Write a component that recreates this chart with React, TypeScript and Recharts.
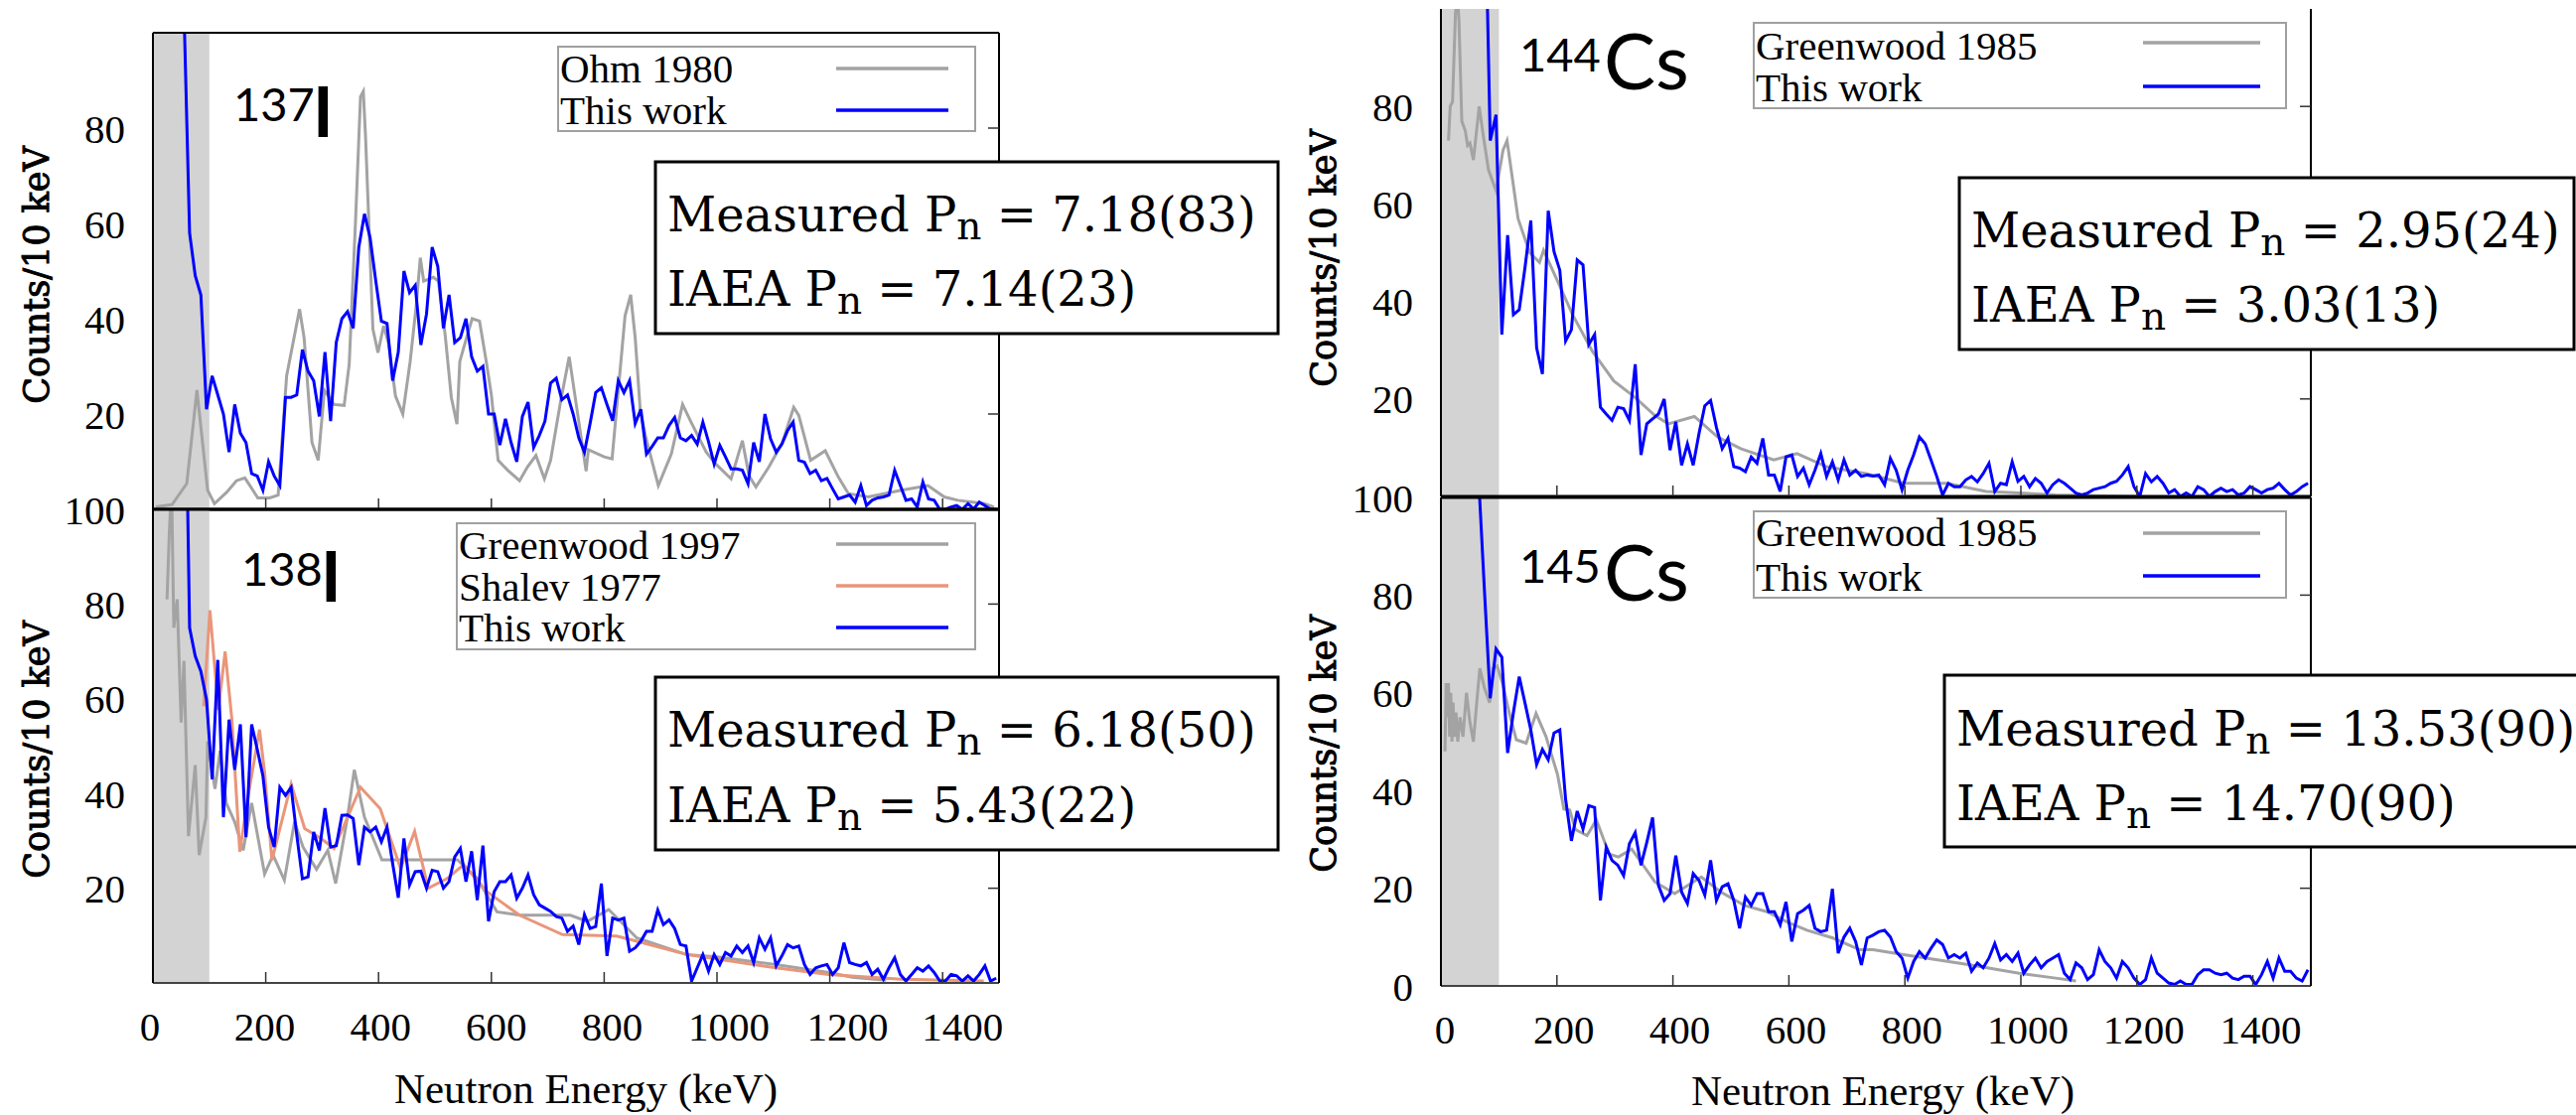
import React from "react";
import { LineChart, Line, XAxis, YAxis, ReferenceArea } from "recharts";

// "This work" spectra, 10 keV bins, bin centres 45 ... 1495 keV
const binCentres = Array.from({ length: 146 }, (_, i) => 45 + 10 * i);

const thisWork137 = [
  160, 105, 58, 49, 45, 21,
  28, 24, 20, 12, 22, 16, 14, 7.5, 7, 4,
  10, 7, 5, 23.5, 23.5, 24, 33.5, 29, 27, 19.5,
  33, 18.5, 35, 40, 41.5, 38, 55, 62, 57, 48,
  39.5, 39, 27, 33, 50, 45.5, 47, 34.5, 41, 55,
  51, 38, 45, 35, 36, 40, 32, 29, 30, 20,
  20, 13.5, 19, 14, 10, 19.5, 22.5, 13, 15.5, 18.5,
  26.5, 27.5, 23, 24, 20, 15, 12, 18, 24.5, 25.5,
  22, 18.6, 27, 24.5, 27, 18, 21, 11.6, 13.2, 15,
  15, 17.6, 19.3, 15, 14.4, 15.5, 13.7, 18.3, 14.2, 9.5,
  13.4, 11, 8.5, 8.5, 8.2, 5.4, 14, 10, 20, 14.8,
  12, 13.7, 16.5, 18.3, 10.3, 9.9, 7.5, 8.2, 6, 6.5,
  4.3, 2.2, 2.6, 3, 1.5, 5, 0.8, 1.9, 2.4, 2.6,
  3, 8.2, 5, 1.9, 2.2, 0.5, 5.7, 2.2, 1.9, 0,
  0, 0.5, 0.8, 0, 1.2, 0.1, 1.5, 0.8, 0, 0,
];

const thisWork138 = [
  160, 150, 75, 69, 65.8, 59.8,
  43, 68.2, 35, 55.6, 45, 54.6, 30.8, 54.6, 49.3, 43.7,
  32.9, 28.7, 41.3, 39.6, 41.3, 31.2, 22, 22.4, 31.9, 28,
  36.9, 28.7, 29, 35.4, 35.5, 34.7, 24.9, 32.9, 31.9, 32.9,
  29.8, 32.9, 25.2, 18, 30.5, 20.7, 23.5, 23.6, 20, 23.8,
  23.5, 20, 21.4, 26.6, 28.4, 21.4, 27.8, 17.5, 29, 13,
  19.3, 21.4, 21.4, 22.8, 17.9, 20, 22.8, 18.6, 16.5, 15.8,
  15.1, 14, 13.7, 10.9, 12, 8.1, 14.4, 11.5, 11.9, 21,
  5.7, 13.7, 13.3, 13.7, 6.7, 7.4, 8.8, 10.9, 10.9, 15.4,
  12.3, 13.3, 11.5, 8.1, 7.8, 0.4, 3.2, 6, 2.5, 6,
  3.9, 6.4, 5.7, 7.8, 6.4, 7.8, 4.3, 9.5, 7.1, 9.5,
  3.6, 5.7, 8.1, 7.4, 7.8, 3.9, 1.8, 3.2, 3.6, 3.9,
  1.8, 3.2, 8.5, 4.3, 3.9, 3.6, 4.3, 1.8, 2.9, 0.8,
  3.2, 5.3, 1.8, 0.4, 1.8, 3.2, 2.5, 3.6, 2.2, 0.4,
  0.4, 1.8, 1.5, 0.4, 1.5, 0.4, 1.8, 3.6, 0.4, 1,
];

const thisWork144 = [
  160, 150, 140, 130, 73, 78.3,
  33.2, 53.6, 37.3, 38.3, 47, 56.6, 30.5, 25.1, 58.6, 50.2,
  46.4, 31.9, 34.2, 48.5, 47.5, 31.2, 33.2, 18.3, 16.9, 15.6,
  18.3, 18, 15.6, 27.1, 8.5, 14.9, 15.9, 16.9, 20, 9.5,
  15.3, 6.4, 10.8, 6.4, 12.9, 18.6, 19.7, 14.2, 9.8, 11.9,
  6.1, 5.8, 5.1, 8.1, 6.8, 11.9, 4.4, 4.4, 1, 8.1,
  8.5, 4.1, 5.8, 2.4, 5.4, 8.8, 4.1, 7.1, 3.4, 7.5,
  4.4, 5.4, 4.1, 4.4, 4.2, 4.4, 2.4, 7.8, 5.4, 1.4,
  5.4, 8.5, 12.2, 10.8, 7.5, 4.1, 0.3, 2.7, 2, 2,
  3.4, 4.1, 3, 4.7, 6.8, 1, 2.7, 2.4, 7.1, 3.1,
  4.1, 2, 3.7, 2.7, 0.7, 2.4, 3.4, 2.7, 1.7, 0.7,
  0.3, 0.7, 1.4, 1.7, 2, 2.7, 3.1, 4.4, 6.1, 2,
  0, 4.7, 3, 4.1, 2.7, 0.7, 1.4, 0, 0.7, 0,
  2, 1.4, 0, 1, 1.7, 1, 1.4, 0.3, 0.7, 2,
  1.4, 0.7, 1.4, 1.7, 2.7, 1.4, 0.3, 1, 2, 2.7,
];

const thisWork145 = [
  170, 160, 104, 81, 58.9, 69,
  67.3, 47.7, 56, 63.3, 57.9, 52.4, 45.3, 48.4, 46.3, 51.8,
  52.4, 38.2, 29.7, 35.8, 32.1, 36.9, 36.5, 17.5, 28.4, 25.7,
  24.7, 22.6, 29.1, 31.4, 24.7, 29.4, 34.5, 20.6, 17.5, 18.9,
  26.7, 19.2, 16.9, 23, 21.6, 18.6, 25.7, 17.5, 20.3, 20.9,
  17.5, 11.8, 18.2, 16.5, 18.9, 18.9, 15.2, 15.2, 12.5, 17.2,
  9.1, 14.8, 15.5, 16.5, 11.8, 11.1, 11.4, 19.9, 6.7, 10,
  11.8, 9.1, 4.3, 9.8, 10.4, 11.1, 11.4, 10, 7, 5.7,
  1.6, 5, 7, 5.7, 7.7, 9.4, 8.5, 5.7, 6.4, 5.7,
  6.7, 3, 4.7, 3.7, 5.7, 8.7, 5.3, 6.4, 5, 6.7,
  2.6, 4.3, 5.7, 3.7, 5, 5.7, 6.4, 2.6, 1.3, 4.7,
  3.7, 1.3, 2.3, 7.4, 5, 3.7, 1.6, 5, 3.7, 1.6,
  0.3, 1.3, 5.7, 2.6, 1.6, 0.6, 0.3, 1, 0.3, 0.3,
  2.3, 3.3, 3.3, 2.6, 2.3, 2.6, 1.6, 1.3, 2, 2,
  0.3, 2.3, 5, 1.6, 5.7, 3, 3, 1.6, 1, 3.3,
];

// earlier measurements, [energy keV, counts/10 keV]
const ohm1980 = [
  [5, 0.5], [34, 1], [60, 5.4], [78, 25], [97, 4], [109, 1.2], [131, 3.6], [148, 6], [163, 6.6], [186, 2.4],
  [207, 2.4], [222, 3], [237, 28], [260, 42], [268, 36], [282, 14], [293, 10.3], [304, 25], [321, 22], [339, 21.8],
  [348, 30.5], [359, 60], [368, 86.6], [373, 87.7], [377, 78], [390, 37.8], [399, 32.9], [409, 38.5], [418, 34.7], [430, 23.8],
  [443, 20], [456, 31], [467, 43], [474, 52.8], [480, 47.9], [497, 48.7], [506, 47.9], [518, 36.7], [529, 23.5], [539, 17.9],
  [544, 31], [556, 36], [566, 40], [579, 39.5], [591, 31], [600, 24], [612, 10.3], [629, 8.2], [650, 6], [664, 8.9],
  [679, 11.3], [694, 6.4], [705, 10.3], [723, 22.8], [738, 32], [768, 8], [772, 12.5], [800, 11], [814, 10.6], [837, 40.6],
  [847, 45], [855, 36], [864, 20.7], [874, 15], [896, 5], [919, 11.6], [939, 22], [954, 18.3], [981, 12], [998, 9.5],
  [1025, 6.4], [1045, 14.4], [1057, 7], [1069, 4.7], [1092, 8.9], [1116, 14], [1136, 21.4], [1145, 19.7], [1166, 10.3], [1192, 12.3],
  [1215, 6.8], [1233, 3.3], [1268, 2.6], [1327, 4], [1374, 5], [1403, 2.6], [1427, 1.9], [1474, 1.2], [1491, 0.5],
];

const greenwood1997 = [
  [25, 81], [29, 95], [33, 105], [37, 75], [43, 81], [50, 55], [55, 68], [63, 31], [75, 46], [82, 27],
  [94, 35], [97, 51], [110, 41], [119, 49], [130, 38], [145, 34], [160, 28], [175, 38], [198, 23], [213, 27],
  [233, 21.7], [251, 34], [266, 28.7], [290, 24], [310, 28], [324, 21], [345, 35], [357, 45], [375, 35], [406, 26],
  [540, 26], [575, 22], [610, 15], [651, 14.3], [740, 14.3], [770, 13], [808, 15.5], [858, 9.5], [946, 6], [1000, 5.5],
  [1104, 3.9], [1198, 2.2], [1240, 1.2], [1300, 0.6],
];

const shalev1977 = [
  [90, 58.4], [101, 78.7], [116, 57.7], [128, 70], [140, 55.6], [154, 27.7], [169, 39.6], [189, 53.5], [198, 44.4], [211, 25.9],
  [245, 42], [269, 32.6], [298, 30.5], [321, 28.4], [368, 41.3], [403, 36.8], [439, 24.2], [464, 32], [488, 20], [521, 22],
  [551, 25], [592, 19.3], [650, 14.3], [726, 10.2], [822, 9.9], [858, 8.8], [946, 6], [1104, 3.2], [1198, 1.8], [1327, 0.8],
  [1473, 0.4],
];

const greenwood1985cs144 = [
  [13, 73], [16, 80], [20, 81], [25, 99], [28, 103], [31, 98], [36, 77], [42, 75], [46, 72], [50, 72.5],
  [56, 69], [66, 80], [73, 74], [82, 67], [95, 62.7], [107, 71], [114, 73], [133, 57], [153, 50], [170, 48],
  [177, 50.5], [204, 43.4], [227, 37.3], [261, 29.8], [298, 23.7], [335, 20.3], [369, 16.6], [392, 14.9], [437, 16.4], [477, 12.2],
  [517, 9.8], [574, 7.5], [614, 8.8], [665, 6.1], [733, 4.7], [798, 2.7], [872, 2.7], [940, 1], [997, 0.7], [1060, 0.3],
  [1200, 0],
];

const greenwood1985cs145 = [
  [7, 48], [9, 62], [11, 55], [13, 62], [15, 51], [17, 60], [19, 50], [21, 58], [23, 51], [26, 56],
  [29, 50], [33, 55], [38, 51], [44, 60], [50, 54], [56, 50], [61, 57], [67, 65], [75, 61], [84, 58],
  [90, 65], [97, 65.5], [107, 61.6], [118, 55.8], [130, 50.4], [147, 49.7], [164, 55.8], [181, 51.1], [201, 43.3], [212, 36.2],
  [222, 36], [232, 32], [252, 30.8], [268, 34], [290, 27], [306, 26.4], [329, 28], [369, 21.3], [403, 18.9], [449, 22.3],
  [483, 19.2], [523, 16.5], [562, 15.2], [597, 13.1], [631, 11.4], [676, 9.8], [722, 7.4], [745, 7.4], [798, 6.4], [912, 4.3],
  [997, 2.6], [1060, 1.6], [1095, 1],
];

const energyTicks = [0, 200, 400, 600, 800, 1000, 1200, 1400];
const countTicks = [20, 40, 60, 80];
const countTicksTop = [20, 40, 60, 80, 100];
const countTicksAll = [0, 20, 40, 60, 80, 100];

const serif = "'Liberation Serif', 'Times New Roman', serif";
const boxFont = "'DejaVu Serif', serif";
const sans = "Lato, 'Noto Sans', sans-serif";

const GREY = "#a3a3a3";
const BLUE = "#0000ff";
const SALMON = "#e9967a";

const toBins = (vals: number[]) => vals.map((v, i) => ({ e: binCentres[i], v }));
const toPts = (pairs: number[][]) => pairs.map(([e, v]) => ({ e, v }));

const noLabel = () => <g />;

interface Series {
  data: { e: number; v: number }[];
  color: string;
  width: number;
}

interface PanelProps {
  left: number;
  top: number;
  width: number;
  height: number;
  margin: { top: number; right: number; bottom: number; left: number };
  yTicks: number[];
  labels: boolean;
  nudge: number[];
  topAxisLine: boolean;
  topH: number;
  dividerBottom: boolean;
  dividerTop: boolean;
  series: Series[];
}

function Panel(p: PanelProps) {
  const renderTick = (props: any) => {
    const { x, y, payload } = props;
    const dx = p.nudge[Math.round(payload.value / 200)] ?? 0;
    return (
      <text x={x + dx} y={y} dy="0.71em" textAnchor="middle" fontSize={41} fontFamily={serif} fill="#000">
        {payload.value}
      </text>
    );
  };
  return (
    <div style={{ position: "absolute", left: p.left, top: p.top }}>
      <LineChart width={p.width} height={p.height} margin={p.margin}>
        <XAxis
          xAxisId="b"
          type="number"
          dataKey="e"
          domain={[0, 1500]}
          allowDataOverflow
          ticks={energyTicks}
          interval={0}
          height={p.labels ? 60 : 10}
          axisLine={{ stroke: p.dividerBottom ? "#000" : "#444", strokeWidth: p.dividerBottom ? 3 : 2 }}
          tickLine={{ stroke: "#333", strokeWidth: 1.5 }}
          tickSize={-11}
          tickMargin={40}
          tick={p.labels ? renderTick : noLabel}
        />
        <XAxis
          xAxisId="t"
          orientation="top"
          type="number"
          domain={[0, 1500]}
          allowDataOverflow
          ticks={energyTicks}
          interval={0}
          height={p.topH}
          axisLine={p.topAxisLine ? { stroke: "#000", strokeWidth: p.dividerTop ? 3 : 2 } : false}
          tickLine={{ stroke: "#333", strokeWidth: 1.5 }}
          tickSize={-11}
          tick={noLabel}
        />
        <YAxis
          yAxisId="l"
          type="number"
          domain={[0, 100]}
          allowDataOverflow
          ticks={p.yTicks}
          interval={0}
          width={60}
          tickSize={0}
          tickMargin={28}
          tickLine={false}
          axisLine={{ stroke: "#000", strokeWidth: 2 }}
          tick={{ fontSize: 41, fill: "#000", fontFamily: serif }}
        />
        <YAxis
          yAxisId="r"
          orientation="right"
          type="number"
          domain={[0, 100]}
          allowDataOverflow
          ticks={countTicks}
          interval={0}
          width={10}
          tickSize={-11}
          tick={noLabel}
          axisLine={{ stroke: "#000", strokeWidth: 2 }}
          tickLine={{ stroke: "#333", strokeWidth: 1.5 }}
        />
        <ReferenceArea xAxisId="b" yAxisId="l" x1={0} x2={100} fill="#d3d3d3" fillOpacity={1} stroke="none" />
        {p.series.map((s, i) => (
          <Line
            key={i}
            xAxisId="b"
            yAxisId="l"
            data={s.data}
            dataKey="v"
            type="linear"
            stroke={s.color}
            strokeWidth={s.width}
            dot={false}
            activeDot={false}
            isAnimationActive={false}
          />
        ))}
      </LineChart>
    </div>
  );
}

function PnBox({ x, y, w, h, tx, b1, b2, measured, iaea }: any) {
  const row = (label: string, val: string, base: number) => (
    <text x={tx} y={base} fontFamily={boxFont} fontSize={48} fill="#000" style={{ whiteSpace: "pre" }}>
      <tspan>{label + " P"}</tspan>
      <tspan fontSize={39} dy={8}>n</tspan>
      <tspan dy={-8}>{" = " + val}</tspan>
    </text>
  );
  return (
    <g>
      <rect x={x} y={y} width={w} height={h} fill="#fff" stroke="#000" strokeWidth={3} />
      {row("Measured", measured, b1)}
      {row("IAEA", iaea, b2)}
    </g>
  );
}

function LegendBox({ x, y, w, h, items }: any) {
  return (
    <g>
      <rect x={x} y={y} width={w} height={h} fill="#fff" stroke="#a0a0a0" strokeWidth={2} />
      {items.map((it: any, i: number) => (
        <g key={i}>
          <text x={x + 2} y={it.base} fontFamily={serif} fontSize={41} fill="#000">
            {it.label}
          </text>
          <line x1={it.x1} x2={it.x2} y1={it.ly} y2={it.ly} stroke={it.color} strokeWidth={3.5} />
        </g>
      ))}
    </g>
  );
}

export default function App() {
  const leftNudge = [-3, -1, 2, 5, 8, 12, 18, 20];
  const rightNudge = [4, 7, 7, 7, 7, 7, 7, 8];
  return (
    <div style={{ position: "absolute", left: 0, top: 0, width: 2594, height: 1123, background: "#fff", overflow: "hidden" }}>
      <Panel
        left={0} top={0} width={1060} height={560}
        margin={{ top: 23, right: 44, bottom: 37, left: 94 }}
        yTicks={countTicks} labels={false} nudge={leftNudge}
        topAxisLine topH={10} dividerBottom dividerTop={false}
        series={[
          { data: toPts(ohm1980), color: GREY, width: 3 },
          { data: toBins(thisWork137), color: BLUE, width: 3 },
        ]}
      />
      <Panel
        left={0} top={480} width={1060} height={643}
        margin={{ top: 23, right: 44, bottom: 73, left: 94 }}
        yTicks={countTicksTop} labels nudge={leftNudge}
        topAxisLine topH={10} dividerBottom={false} dividerTop
        series={[
          { data: toPts(greenwood1997), color: GREY, width: 3 },
          { data: toPts(shalev1977), color: SALMON, width: 3 },
          { data: toBins(thisWork138), color: BLUE, width: 3 },
        ]}
      />
      <Panel
        left={1300} top={0} width={1294} height={560}
        margin={{ top: 4, right: 257, bottom: 50, left: 91 }}
        yTicks={countTicks} labels={false} nudge={rightNudge}
        topAxisLine={false} topH={5} dividerBottom dividerTop={false}
        series={[
          { data: toPts(greenwood1985cs144), color: GREY, width: 3 },
          { data: toBins(thisWork144), color: BLUE, width: 3 },
        ]}
      />
      <Panel
        left={1300} top={480} width={1294} height={643}
        margin={{ top: 11, right: 257, bottom: 70, left: 91 }}
        yTicks={countTicksAll} labels nudge={rightNudge}
        topAxisLine topH={10} dividerBottom={false} dividerTop
        series={[
          { data: toPts(greenwood1985cs145), color: GREY, width: 3 },
          { data: toBins(thisWork145), color: BLUE, width: 3 },
        ]}
      />

      <svg width={2594} height={1123} style={{ position: "absolute", left: 0, top: 0, pointerEvents: "none" }}>
        {/* axis titles */}
        {[
          [37, 277],
          [37, 755],
          [1333, 260],
          [1333, 749],
        ].map(([x, y], i) => (
          <text
            key={i}
            transform={`translate(${x},${y}) rotate(-90)`}
            textAnchor="middle"
            dy="0.35em"
            fontFamily={boxFont}
            fontSize={35}
            fill="#000"
            stroke="#000"
            strokeWidth={1}
          >
            Counts/10 keV
          </text>
        ))}
        <text x={590} y={1111} textAnchor="middle" fontFamily={serif} fontSize={43} fill="#000">
          Neutron Energy (keV)
        </text>
        <text x={1896} y={1113} textAnchor="middle" fontFamily={serif} fontSize={43} fill="#000">
          Neutron Energy (keV)
        </text>

        {/* isotope labels */}
        <text x={235} y={122} fontFamily={sans} fontSize={47} fill="#000">137</text>
        <text x={315} y={138} fontFamily={sans} fontSize={70} fontWeight={700} fill="#000">I</text>
        <text x={243} y={590} fontFamily={sans} fontSize={47} fill="#000">138</text>
        <text x={323} y={606} fontFamily={sans} fontSize={70} fontWeight={700} fill="#000">I</text>
        <text x={1530} y={72} fontFamily={sans} fontSize={47} fill="#000">144</text>
        <text x={1615} y={90} fontFamily={sans} fontSize={78} fill="#000">Cs</text>
        <text x={1530} y={587} fontFamily={sans} fontSize={47} fill="#000">145</text>
        <text x={1615} y={605} fontFamily={sans} fontSize={78} fill="#000">Cs</text>

        {/* legends */}
        <LegendBox
          x={562} y={47} w={420} h={85}
          items={[
            { label: "Ohm 1980", base: 83, ly: 69, x1: 842, x2: 955, color: GREY },
            { label: "This work", base: 125, ly: 111, x1: 842, x2: 955, color: BLUE },
          ]}
        />
        <LegendBox
          x={460} y={527} w={522} h={127}
          items={[
            { label: "Greenwood 1997", base: 563, ly: 548, x1: 842, x2: 955, color: GREY },
            { label: "Shalev 1977", base: 605, ly: 590, x1: 842, x2: 955, color: SALMON },
            { label: "This work", base: 646, ly: 632, x1: 842, x2: 955, color: BLUE },
          ]}
        />
        <LegendBox
          x={1766} y={23} w={536} h={86}
          items={[
            { label: "Greenwood 1985", base: 60, ly: 43, x1: 2158, x2: 2276, color: GREY },
            { label: "This work", base: 102, ly: 87, x1: 2158, x2: 2276, color: BLUE },
          ]}
        />
        <LegendBox
          x={1766} y={515} w={536} h={87}
          items={[
            { label: "Greenwood 1985", base: 550, ly: 537, x1: 2158, x2: 2276, color: GREY },
            { label: "This work", base: 595, ly: 580, x1: 2158, x2: 2276, color: BLUE },
          ]}
        />

        {/* Pn boxes */}
        <PnBox x={660} y={163} w={627} h={173} tx={672} b1={233} b2={308} measured="7.18(83)" iaea="7.14(23)" />
        <PnBox x={660} y={682} w={627} h={174} tx={672} b1={752} b2={828} measured="6.18(50)" iaea="5.43(22)" />
        <PnBox x={1973} y={179} w={619} h={173} tx={1985} b1={249} b2={324} measured="2.95(24)" iaea="3.03(13)" />
        <PnBox x={1958} y={680} w={700} h={173} tx={1970} b1={751} b2={826} measured="13.53(90)" iaea="14.70(90)" />
      </svg>
    </div>
  );
}
